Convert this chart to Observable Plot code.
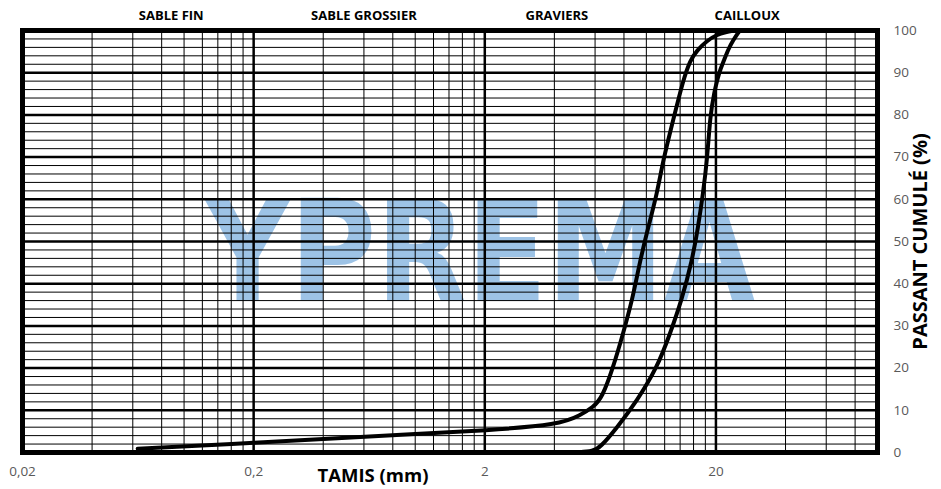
<!DOCTYPE html>
<html><head><meta charset="utf-8">
<script src="https://cdn.jsdelivr.net/npm/d3@7"></script>
<script src="https://cdn.jsdelivr.net/npm/@observablehq/plot@0.6"></script>
<style>body{margin:0;background:#fff;}</style>
</head><body><div id="chart"></div>
<script>
// Curve 1 (finer material): sieve size (mm) and cumulative passing (%)
const curve1Sizes = [0.063, 0.2, 0.5, 1, 2, 4.24, 5.17, 5.88, 6.44, 7.18, 7.93, 8.68, 9.40, 10.18, 11.13, 11.81, 13.05, 14.42, 15.45, 16.57, 18.31, 20.2, 22.0, 24.0];
const curve1Pass  = [0.9, 2.3, 3.5, 4.4, 5.2, 6.6, 8.8, 10.7, 13.0, 20.1, 28.2, 36.0, 45.5, 53.3, 61.4, 69.2, 78.7, 88.2, 92.9, 95.3, 97.6, 99.0, 99.6, 100];
// Curve 2 (coarser material)
const curve2Sizes = [5.0, 5.9, 6.31, 7.47, 9.12, 11.13, 12.67, 14.2, 15.77, 16.74, 17.59, 18.31, 18.9, 19.6, 20.6, 21.7, 22.6, 23.7, 24.9, 25.4];
const curve2Pass  = [0, 0.3, 1.2, 5.9, 12.3, 20.1, 28.2, 36.0, 45.5, 53.3, 61.4, 69.2, 80.0, 85.0, 90.0, 93.0, 95.5, 97.6, 99.4, 100];

const xTicks = [0.02, 0.2, 2, 20];
const xTickLabels = ["0,02", "0,2", "2", "20"];
const xMajorGrid = [0.2, 2, 20];
const xMinorGrid = [0.04, 0.06, 0.08, 0.1, 0.12, 0.14, 0.16, 0.18,
                    0.4, 0.6, 0.8, 1, 1.2, 1.4, 1.6, 1.8,
                    4, 6, 8, 10, 12, 14, 16, 18,
                    40, 60, 80];
const yTicks = [0, 10, 20, 30, 40, 50, 60, 70, 80, 90, 100];
const yMajorGrid = [10, 20, 30, 40, 50, 60, 70, 80, 90];
const yMinorGrid = [2,4,6,8,12,14,16,18,22,24,26,28,32,34,36,38,42,44,46,48,
                    52,54,56,58,62,64,66,68,72,74,76,78,82,84,86,88,92,94,96,98];
const zoneLabels = ["SABLE FIN", "SABLE GROSSIER", "GRAVIERS", "CAILLOUX"];
const zoneCenters = [0.088, 0.60, 4.1, 27.3];
const xTitle = "TAMIS (mm)";
const yTitle = "PASSANT CUMULÉ (%)";
const watermark = "YPREMA";

const c1 = curve1Sizes.map((s, i) => ({size: s, pass: curve1Pass[i]}));
const c2 = curve2Sizes.map((s, i) => ({size: s, pass: curve2Pass[i]}));

const F = "'Open Sans', sans-serif";
const plot = Plot.plot({
  width: 941, height: 489,
  marginLeft: 22, marginRight: 64, marginTop: 30, marginBottom: 37,
  style: {fontFamily: F, background: "#fff", overflow: "visible"},
  x: {type: "log", domain: [0.02, 100], axis: null},
  y: {domain: [0, 100], axis: null},
  marks: [
    Plot.text([watermark], {frameAnchor: "middle", dx: 30, dy: 15, fontSize: 140, fontWeight: "bold",
      fill: "#9DC3E6", fontFamily: "DejaVu Sans", lineAnchor: "middle", textAnchor: "middle"}),
    Plot.ruleY(yMinorGrid, {stroke: "#000", strokeWidth: 1}),
    Plot.ruleY(yMajorGrid, {stroke: "#000", strokeWidth: 2.5}),
    Plot.ruleX(xMinorGrid, {stroke: "#000", strokeWidth: 1}),
    Plot.ruleX(xMajorGrid, {stroke: "#000", strokeWidth: 2.5}),
    Plot.line(c1, {x: "size", y: "pass", curve: "basis", stroke: "#000", strokeWidth: 4}),
    Plot.line(c2, {x: "size", y: "pass", curve: "basis", stroke: "#000", strokeWidth: 4}),
    Plot.frame({stroke: "#000", strokeWidth: 5}),
    Plot.axisX(xTicks, {tickSize: 0, tickPadding: 14, tickFormat: d => xTickLabels[xTicks.indexOf(d)],
      fontSize: 13.5, fill: "#595959", label: null}),
    Plot.axisY(yTicks, {anchor: "right", tickSize: 0, tickPadding: 16, fontSize: 13.5, fill: "#595959", label: null}),
    Plot.text(zoneLabels, {x: (d, i) => zoneCenters[i], frameAnchor: "top", dy: -15, fontSize: 13,
      fontWeight: "bold", fill: "#000", lineAnchor: "middle", textAnchor: "middle"}),
    Plot.text([xTitle], {frameAnchor: "bottom", dx: -77, dy: 24, fontSize: 18.5, fontWeight: "bold",
      fill: "#000", lineAnchor: "middle", textAnchor: "middle"}),
    Plot.text([yTitle], {frameAnchor: "right", dx: 43, rotate: -90, fontSize: 20, fontWeight: "bold",
      fill: "#000", lineAnchor: "middle", textAnchor: "middle"})
  ]
});
d3.select(plot).selectAll("text").filter(function() { return this.textContent === watermark; })
  .attr("textLength", 550).attr("lengthAdjust", "spacingAndGlyphs");
document.getElementById("chart").appendChild(plot);
</script>
</body></html>
